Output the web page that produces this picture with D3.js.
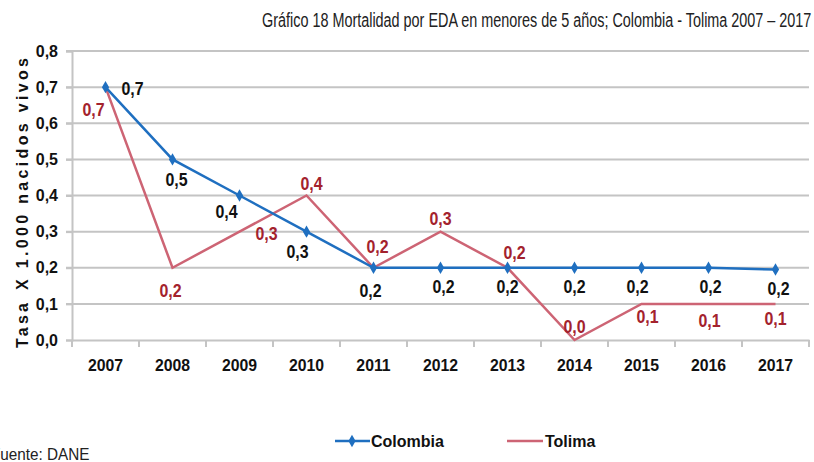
<!DOCTYPE html>
<meta charset="utf-8">
<style>
body { margin: 0; background: #fff; }
text { font-family: "Liberation Sans", Arial, sans-serif; }
.grid line { stroke: #c4c4c4; stroke-width: 2; }
.tick text { font-weight: bold; font-size: 16px; fill: #111; font-family: "Liberation Sans", Arial, sans-serif; }
</style>
<body></body>
<script src="https://cdn.jsdelivr.net/npm/d3@7"></script>
<script>

// data
var years = ["2007","2008","2009","2010","2011","2012","2013","2014","2015","2016","2017"];
var colombia = [0.7, 0.5, 0.4, 0.3, 0.2, 0.2, 0.2, 0.2, 0.2, 0.2, 0.195];
var tolima = [0.7, 0.2, 0.3, 0.4, 0.2, 0.3, 0.2, 0.0, 0.1, 0.1, 0.1];
var colombiaLabels = ["0,7","0,5","0,4","0,3","0,2","0,2","0,2","0,2","0,2","0,2","0,2"];
var tolimaLabels = ["0,7","0,2","0,3","0,4","0,2","0,3","0,2","0,0","0,1","0,1","0,1"];
var yTicks = [0, 0.1, 0.2, 0.3, 0.4, 0.5, 0.6, 0.7, 0.8];

// label nudges (dx, dy from the point)
var colNudge = [[27,8],[4,27],[-13,22],[-9,26],[-3,29],[3,25],[0,25],[0,25],[-4,25],[2,25],[3,25]];
var tolNudge = [[-12,29],[-2,29],[27,8],[5,-6],[4,-15],[0,-7],[7,-9],[0,-7],[6,19],[1,23],[0,21]];

var W = 814, H = 462;
var blue = "#1f6fc0", pink = "#cd6474", red = "#a3222d";

var svg = d3.select("body").append("svg")
    .attr("width", W)
    .attr("height", H);

var x = d3.scaleBand().domain(years).range([72, 809]);
var y = d3.scaleLinear().domain([0, 0.8]).range([340, 51]);
var cx = function(i) { return x(years[i]) + x.bandwidth() / 2; };

// title, squeezed to the width it takes in the original
var title = svg.append("text")
    .attr("font-size", "19.5px")
    .attr("fill", "#222")
    .text("Gráfico 18 Mortalidad por EDA en menores de 5 años; Colombia - Tolima 2007 – 2017");
var tw = title.node().getComputedTextLength();
title.attr("transform", "translate(262,27) scale(" + (550 / tw) + ",1)");

// gridlines
svg.append("g").attr("class", "grid")
  .selectAll("line")
  .data(yTicks.slice(1))
  .enter().append("line")
    .attr("x1", 66).attr("x2", 809)
    .attr("y1", function(d) { return y(d); })
    .attr("y2", function(d) { return y(d); });

// y axis
var yAxis = svg.append("g")
    .attr("transform", "translate(72,0)")
    .call(d3.axisLeft(y).tickValues(yTicks).tickSize(6).tickPadding(8)
      .tickFormat(function(d) { return d3.format(".1f")(d).replace(".", ","); }));
yAxis.select(".domain").attr("stroke", "#c4c4c4").attr("stroke-width", 2);
yAxis.selectAll(".tick line").attr("stroke", "#c4c4c4").attr("stroke-width", 2);

// x axis
var xAxis = svg.append("g")
    .attr("transform", "translate(0,340)")
    .call(d3.axisBottom(x).tickSize(0).tickPadding(19));
xAxis.select(".domain").attr("stroke", "#c4c4c4").attr("stroke-width", 2);
xAxis.selectAll(".tick line").remove();
xAxis.selectAll(".tick text").style("font-size", "17px").attr("transform", "scale(0.93,1)");
svg.append("g")
  .selectAll("line")
  .data(years.concat(["end"]))
  .enter().append("line")
    .attr("x1", function(d, i) { return 72 + i * x.bandwidth(); })
    .attr("x2", function(d, i) { return 72 + i * x.bandwidth(); })
    .attr("y1", 340).attr("y2", 347)
    .attr("stroke", "#c4c4c4").attr("stroke-width", 2);

// y axis title
svg.append("text")
    .attr("transform", "translate(28,348) rotate(-90)")
    .attr("font-weight", "bold")
    .attr("font-size", "16px")
    .attr("fill", "#111")
    .attr("textLength", 45)
    .attr("lengthAdjust", "spacing")
    .text("Tasa");
svg.append("text")
    .attr("transform", "translate(28,290) rotate(-90)")
    .attr("font-weight", "bold")
    .attr("font-size", "16px")
    .attr("fill", "#111")
    .attr("textLength", 232)
    .attr("lengthAdjust", "spacing")
    .text("X 1.000 nacidos vivos");

var line = d3.line()
    .x(function(d, i) { return cx(i); })
    .y(function(d) { return y(d); });

svg.append("path")
    .datum(tolima)
    .attr("d", line)
    .attr("fill", "none")
    .attr("stroke", pink)
    .attr("stroke-width", 2.5);

svg.append("path")
    .datum(colombia)
    .attr("d", line)
    .attr("fill", "none")
    .attr("stroke", blue)
    .attr("stroke-width", 2.5);

var diamond = d3.symbol().type(d3.symbolDiamond).size(45);
svg.append("g")
  .selectAll("path")
  .data(colombia)
  .enter().append("path")
    .attr("d", diamond)
    .attr("transform", function(d, i) { return "translate(" + cx(i) + "," + y(d) + ")"; })
    .attr("fill", blue);

// data labels (narrow, tall digits like the original)
function labels(vals, texts, nudge, color) {
  svg.append("g")
    .selectAll("text")
    .data(vals)
    .enter().append("text")
      .attr("transform", function(d, i) {
        return "translate(" + (cx(i) + nudge[i][0]) + "," + (y(d) + nudge[i][1]) + ") scale(0.84,1)";
      })
      .attr("text-anchor", "middle")
      .attr("font-weight", "bold")
      .attr("font-size", "19px")
      .attr("fill", color)
      .text(function(d, i) { return texts[i]; });
}
labels(colombia, colombiaLabels, colNudge, "#111");
labels(tolima, tolimaLabels, tolNudge, red);

// legend
var lg = svg.append("g").attr("transform", "translate(0,441)");
lg.append("line").attr("x1", 335).attr("x2", 370).attr("stroke", blue).attr("stroke-width", 2.5);
lg.append("path").attr("d", diamond).attr("transform", "translate(352,0)").attr("fill", blue);
lg.append("text").attr("x", 371).attr("y", 6).attr("font-weight", "bold").attr("font-size", "16px").attr("fill", "#111").text("Colombia");
lg.append("line").attr("x1", 507).attr("x2", 543).attr("stroke", pink).attr("stroke-width", 2.5);
lg.append("text").attr("x", 545).attr("y", 6).attr("font-weight", "bold").attr("font-size", "16px").attr("fill", "#111").text("Tolima");

// source (cut at the left edge, as in the original)
svg.append("text")
    .attr("transform", "translate(-9,460) scale(0.9,1)")
    .attr("font-size", "17px")
    .attr("fill", "#222")
    .text("Fuente: DANE");

</script>
